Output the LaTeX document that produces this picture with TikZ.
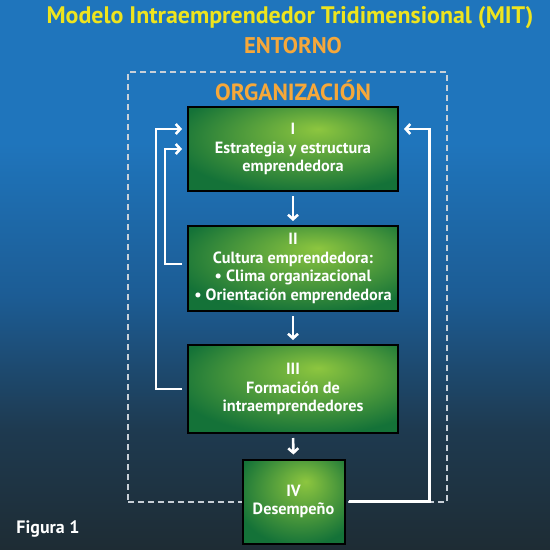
\documentclass[tikz,border=0pt]{standalone}
\usepackage{fontspec}
\setmainfont{PT Sans}
\usetikzlibrary{arrows.meta,calc}
\definecolor{bgtop}{RGB}{31,117,188}
\definecolor{bgmid}{RGB}{28,92,148}
\definecolor{bglow}{RGB}{30,58,80}
\definecolor{bgbot}{RGB}{30,44,52}
\definecolor{ltgreen}{RGB}{141,198,63}
\definecolor{dkgreen}{RGB}{20,114,56}
\definecolor{ttl}{RGB}{238,228,30}
\definecolor{orng}{RGB}{246,168,58}
\definecolor{dashc}{RGB}{200,208,216}
\pgfdeclareradialshading{boxshade}{\pgfpoint{6bp}{12bp}}{color(0bp)=(ltgreen); color(32bp)=(dkgreen); color(60bp)=(dkgreen)}
\pgfdeclareverticalshading{bgshade}{100bp}{color(0bp)=(bgbot); color(25bp)=(bgbot); color(36bp)=(bglow); color(48bp)=(bgmid); color(62bp)=(bgtop); color(100bp)=(bgtop)}
\tikzset{
  stagebox/.style={draw=black, line width=2bp, shading=boxshade, text=white,
    font=\bfseries\fontsize{16.3}{18.5}\selectfont, align=center, inner sep=0pt},
  conn/.style={draw=white, line width=2.6bp},
  arr/.style={conn, -{Straight Barb[length=4.5bp,width=10bp]}},
  heading/.style={font=\bfseries\fontsize{23.5}{26}\selectfont},
}
\begin{document}
\begin{tikzpicture}[x=1bp,y=1bp]
\useasboundingbox (0,0) rectangle (550,-550);
\shade[shading=bgshade] (0,0) rectangle (550,-550);
\node[draw=dashc, line width=1.1bp, dash pattern=on 6bp off 4bp, minimum width=319bp, minimum height=430bp, inner sep=0pt] (orgbox) at (287.5,-287) {};
\node[heading, text=ttl, font=\bfseries\fontsize{24}{26}\selectfont] (title) at (290,-18) {Modelo Intraemprendedor Tridimensional (MIT)};
\node[heading, text=orng, font=\bfseries\fontsize{22.8}{26}\selectfont] (ent) at (293,-46) {ENTORNO};
\node[heading, text=orng] (org) at (293,-90) {ORGANIZACIÓN};
\node[font=\bfseries\fontsize{18}{20}\selectfont, text=white] (fig) at (48,-529) {Figura 1};
\node[stagebox, minimum width=210bp, minimum height=84bp] (b1) at (293,-149) {I\\Estrategia y estructura\\emprendedora};
\node[stagebox, minimum width=210bp, minimum height=85bp] (b2) at (293,-268.5) {II\\Cultura emprendedora:\\• Clima organizacional\\• Orientación emprendedora};
\node[stagebox, minimum width=210bp, minimum height=88bp] (b3) at (293,-389) {III\\Formación de\\intraemprendedores};
\node[stagebox, minimum width=102bp, minimum height=84bp] (b4) at (293.5,-501.5) {IV\\Desempeño};
\draw[arr, shorten <=4bp, shorten >=4bp] (b1.south) -- (b2.north);
\draw[arr, shorten <=4bp, shorten >=4bp] (b2.south) -- (b3.north);
\draw[arr, shorten <=4bp, shorten >=4bp] (b3.south) -- (b4.north);
\draw[arr] ([xshift=-5bp]b3.west) -- ++(-26,0) |- ([xshift=-5bp,yshift=20bp]b1.west);
\draw[arr] ([xshift=-5bp,yshift=4.5bp]b2.west) -- ++(-17,0) |- ([xshift=-5bp]b1.west);
\draw[arr] ([xshift=3bp]b4.east) -- ++(81,0) |- ([xshift=5bp,yshift=20bp]b1.east);
\end{tikzpicture}
\end{document}
